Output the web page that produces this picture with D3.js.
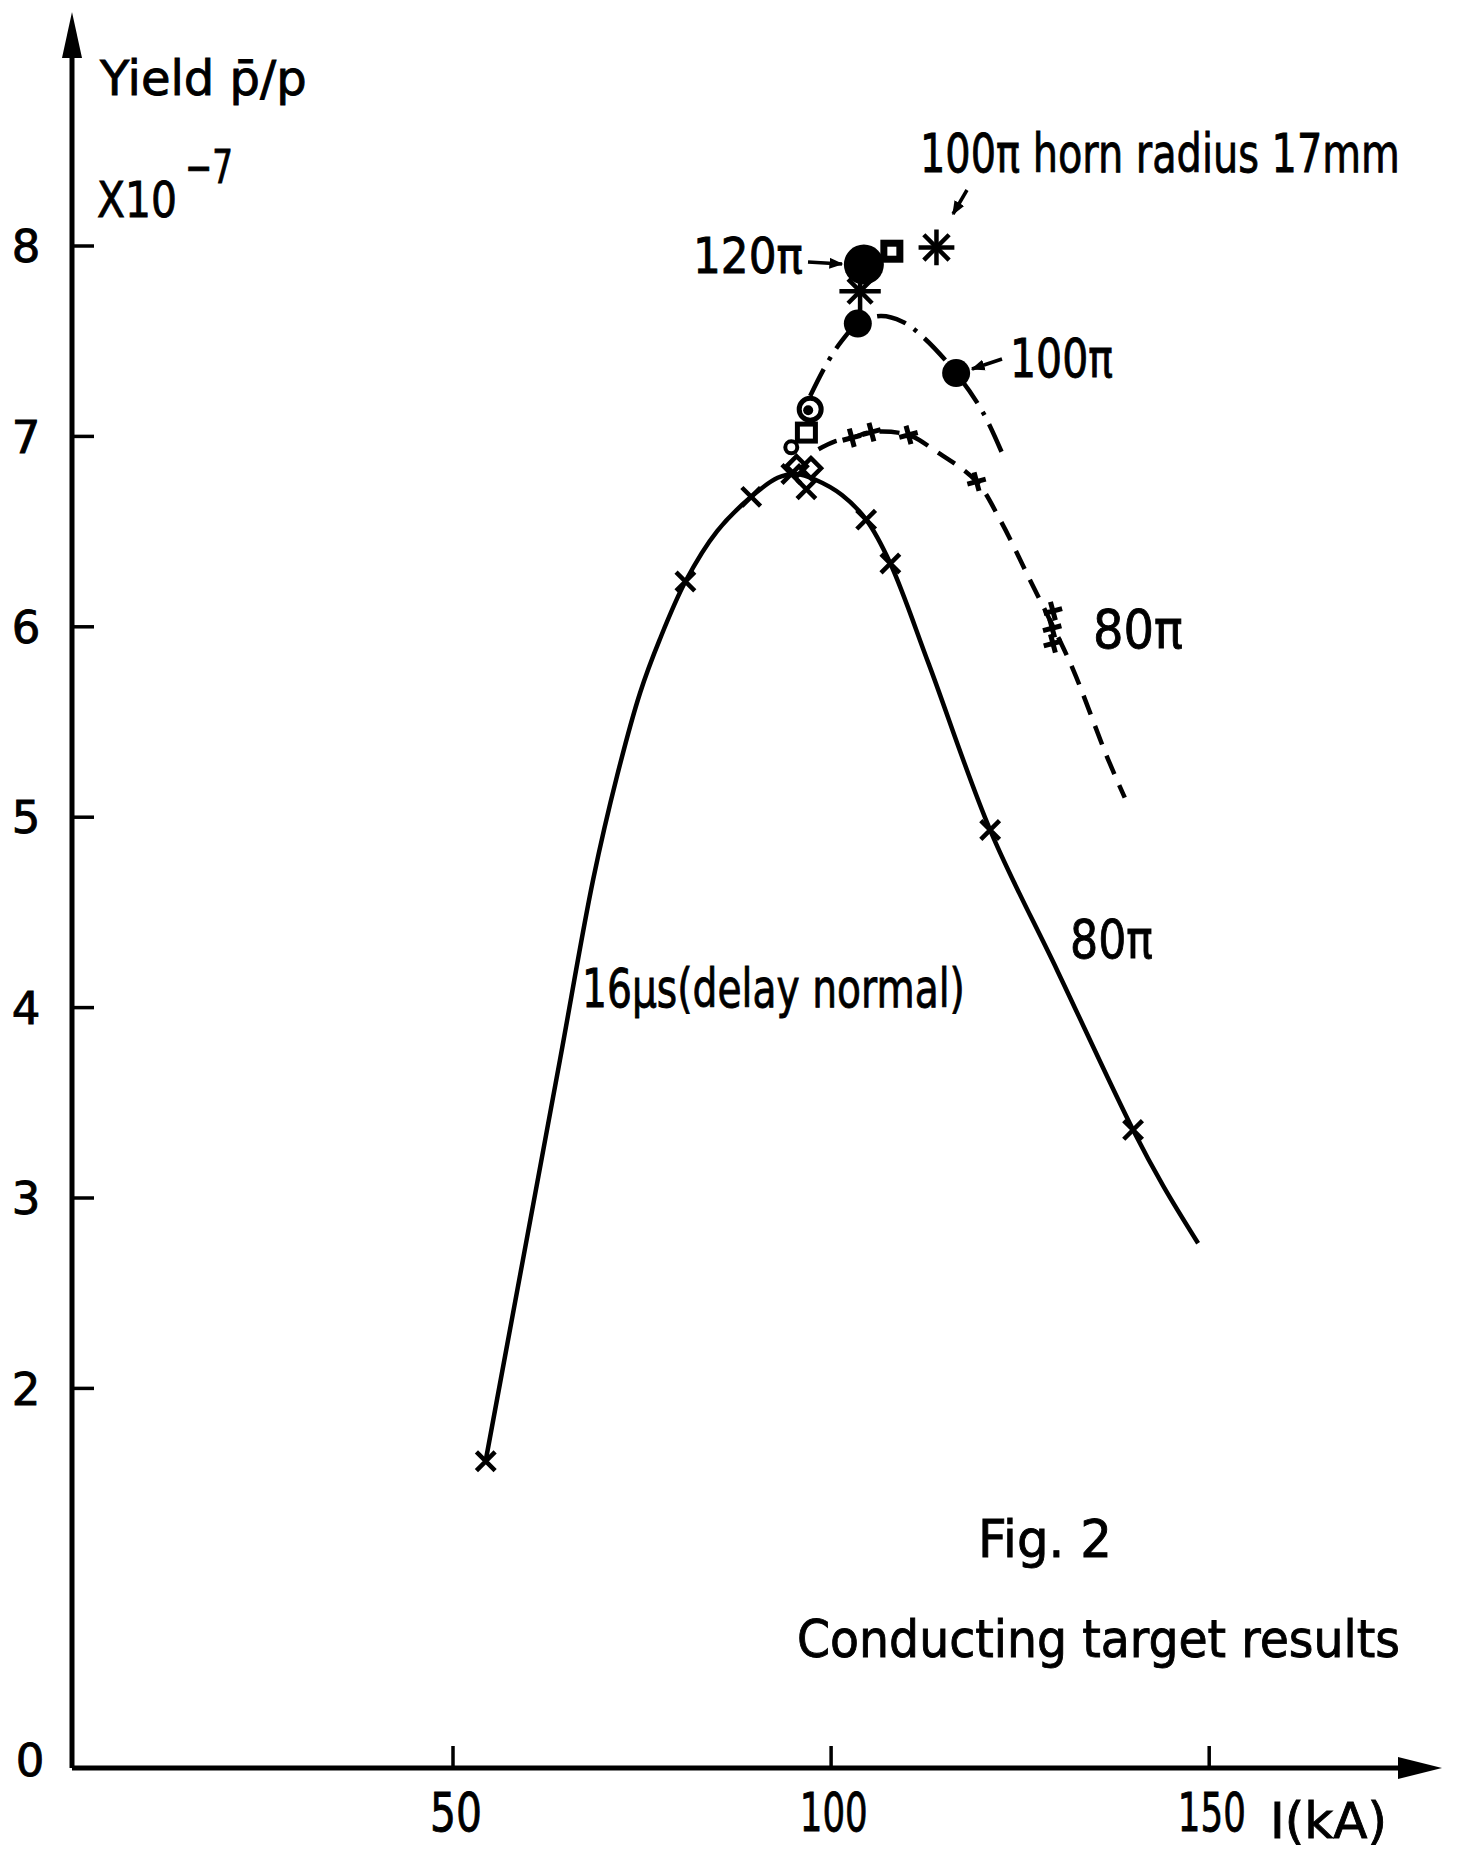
<!DOCTYPE html>
<html>
<head>
<meta charset="utf-8">
<script src="https://cdn.jsdelivr.net/npm/d3@7"></script>
<style>
  body { margin: 0; background: #fff; }
  text { font-family: "DejaVu Sans", sans-serif; fill: #000; stroke: #000; stroke-width: 0.9px; }
</style>
</head>
<body>
<script>
let width = 1458;
let height = 1853;

// axis ticks
let xTicks = [50, 100, 150];
let yTicks = [2, 3, 4, 5, 6, 7, 8];

// 80 pi, 16 us (delay normal) - solid line, x markers
let solidMarks = [[54.4, 1.615], [80.8, 6.235], [89.5, 6.68], [94.8, 6.80], [96.8, 6.72],
                  [104.7, 6.56], [107.9, 6.33], [121.1, 4.93], [140.0, 3.355]];
let solidCurve = [[54.4, 1.62], [59.3, 2.67], [64.2, 3.72], [68.6, 4.67], [71.8, 5.22], [74.8, 5.65],
                  [77.4, 5.93], [80.8, 6.235], [85.0, 6.5], [89.5, 6.68], [93.0, 6.78], [95.5, 6.80],
                  [98.0, 6.77], [101.5, 6.69], [104.7, 6.56], [107.9, 6.33], [113.0, 5.8],
                  [121.1, 4.93], [130.0, 4.19], [140.0, 3.355], [144.0, 3.06], [148.6, 2.76]];

// 80 pi - dashed line, + markers
let dashedMarks = [[102.8, 6.99], [105.4, 7.02], [110.3, 7.005], [119.3, 6.76],
                   [129.4, 6.08], [129.3, 5.99], [129.4, 5.91]];
let dashedCurve = [[98.4, 6.93], [100.5, 6.97], [102.8, 6.99], [105.4, 7.02], [110.3, 7.005],
                   [113.9, 6.92], [119.3, 6.76], [122.4, 6.56], [126.4, 6.24], [129.4, 6.0],
                   [132.1, 5.77], [136.5, 5.32], [138.9, 5.10]];

// 100 pi - dash-dot line, filled circles
let dotDashMarks = [[103.6, 7.59], [116.6, 7.33]];
let dotDashCurve = [[97.3, 7.21], [99.5, 7.38], [101.5, 7.5], [103.6, 7.59], [106.6, 7.63],
                    [109.5, 7.6], [112.2, 7.52], [116.6, 7.33], [120.2, 7.12], [123.1, 6.87]];

// odd points around the peak
let openDotCircle = [[97.3, 7.14]];
let openSquare = [[96.8, 7.02]];
let smallCircle = [[94.8, 6.94]];
let diamonds = [[95.5, 6.84], [97.4, 6.83]];
let bigCircle120 = [[104.4, 7.90]];
let filledSquare = [[108.1, 7.97]];
let stars = [[103.9, 7.76], [114.0, 7.99]];

let xScale = d3.scaleLinear().domain([0, 180]).range([74.4, 74.4 + 180 * 7.562]);
let yScale = d3.scaleLinear().domain([0, 8]).range([1768.7, 1768.7 - 8 * 190.4]);

let svg = d3.select('body').append('svg')
            .attr('width', width)
            .attr('height', height);

svg.append('defs').append('marker')
    .attr('id', 'head')
    .attr('viewBox', '0 0 10 10')
    .attr('refX', 9).attr('refY', 5)
    .attr('markerWidth', 4).attr('markerHeight', 4)
    .attr('orient', 'auto')
    .append('path').attr('d', 'M0,1L10,5L0,9Z').attr('fill', '#000');

// squeeze a text to a given width (the original lettering is narrow)
function squeeze(sel, w, anchorMid) {
    sel.each(function(d, i) {
        let t = d3.select(this);
        let n = this.getComputedTextLength();
        let target = typeof w === 'function' ? w(d, i) : w;
        let x = +t.attr('x') || 0, y = +t.attr('y') || 0;
        let k = Math.min(1, target / n);
        t.attr('x', 0).attr('y', 0)
         .attr('transform', 'translate(' + x + ',' + y + ') scale(' + k + ',1)');
    });
}

// axes
let ax = svg.append('g').attr('transform', 'translate(72,0)')
    .call(d3.axisLeft(yScale).tickValues(yTicks).tickSize(-22).tickSizeOuter(0));
ax.select('.domain').remove();
ax.selectAll('line').attr('stroke', '#000').attr('stroke-width', 3.5);
ax.selectAll('text').attr('x', -46).attr('text-anchor', 'middle')
    .attr('font-size', 45).attr('font-family', '"DejaVu Sans", sans-serif').attr('dy', '0.36em');

let bx = svg.append('g').attr('transform', 'translate(0,1768)')
    .call(d3.axisBottom(xScale).tickValues(xTicks).tickSize(-22).tickSizeOuter(0));
bx.select('.domain').remove();
bx.selectAll('line').attr('stroke', '#000').attr('stroke-width', 3.5);
bx.selectAll('text').attr('y', 25).attr('dx', 4)
    .attr('font-size', 54).attr('font-family', '"DejaVu Sans", sans-serif');
squeeze(bx.selectAll('text'), function(d) { return d < 100 ? 52 : 68; });

svg.append('line').attr('x1', 72).attr('y1', 1768).attr('x2', 72).attr('y2', 40)
    .attr('stroke', '#000').attr('stroke-width', 5);
svg.append('path').attr('d', 'M72,12L62,58L82,58Z').attr('fill', '#000');
svg.append('line').attr('x1', 72).attr('y1', 1768).attr('x2', 1410).attr('y2', 1768)
    .attr('stroke', '#000').attr('stroke-width', 5);
svg.append('path').attr('d', 'M1442,1768L1398,1757L1398,1779Z').attr('fill', '#000');

svg.append('text').attr('x', 30).attr('y', 1760).attr('dy', '0.36em')
    .attr('text-anchor', 'middle').attr('font-size', 45).text('0');

// curves
let line = d3.line()
    .x(function(d) { return xScale(d[0]); })
    .y(function(d) { return yScale(d[1]); })
    .curve(d3.curveCatmullRom.alpha(0.5));

svg.append('path').datum(solidCurve).attr('d', line)
    .attr('fill', 'none').attr('stroke', '#000').attr('stroke-width', 4.5);
svg.append('path').datum(dashedCurve).attr('d', line)
    .attr('fill', 'none').attr('stroke', '#000').attr('stroke-width', 4.5)
    .attr('stroke-dasharray', '20,12');
svg.append('path').datum(dotDashCurve).attr('d', line)
    .attr('fill', 'none').attr('stroke', '#000').attr('stroke-width', 4.5)
    .attr('stroke-dasharray', '30,10,4,10');

function tr(d) { return 'translate(' + xScale(d[0]) + ',' + yScale(d[1]) + ')'; }

// markers
svg.selectAll('.xmark').data(solidMarks).enter().append('path')
    .attr('transform', tr)
    .attr('d', d3.symbol(d3.symbolTimes, 230))
    .attr('fill', 'none').attr('stroke', '#000').attr('stroke-width', 4.5);

svg.selectAll('.pmark').data(dashedMarks).enter().append('path')
    .attr('transform', function(d) { return tr(d) + ' rotate(-15)'; })
    .attr('d', d3.symbol(d3.symbolPlus, 120))
    .attr('fill', 'none').attr('stroke', '#000').attr('stroke-width', 5);

svg.selectAll('.dmark').data(diamonds).enter().append('path')
    .attr('transform', tr)
    .attr('d', d3.symbol(d3.symbolDiamond2, 260))
    .attr('fill', 'none').attr('stroke', '#000').attr('stroke-width', 4.5);

svg.selectAll('.fcirc').data(dotDashMarks).enter().append('circle')
    .attr('transform', tr).attr('r', 14).attr('fill', '#000');

svg.selectAll('.ocirc').data(openDotCircle).enter().append('g')
    .attr('transform', tr)
    .each(function() {
        d3.select(this).append('circle').attr('r', 11).attr('fill', '#fff')
            .attr('stroke', '#000').attr('stroke-width', 5);
        d3.select(this).append('circle').attr('r', 5).attr('cx', -2).attr('cy', 1).attr('fill', '#000');
    });

svg.selectAll('.osq').data(openSquare).enter().append('rect')
    .attr('transform', tr).attr('x', -9).attr('y', -8).attr('width', 18).attr('height', 17)
    .attr('fill', '#fff').attr('stroke', '#000').attr('stroke-width', 5);

svg.selectAll('.scirc').data(smallCircle).enter().append('circle')
    .attr('transform', tr).attr('r', 6).attr('fill', '#fff')
    .attr('stroke', '#000').attr('stroke-width', 4);

svg.selectAll('.star').data(stars).enter().append('g')
    .attr('transform', tr)
    .each(function(d, i) {
        let s = d3.select(this);
        s.append('path').attr('d', d3.symbol(d3.symbolTimes, i ? 420 : 380))
            .attr('fill', 'none').attr('stroke', '#000').attr('stroke-width', 4.5);
        s.append('path').attr('d', d3.symbol(d3.symbolPlus, i ? 420 : 560))
            .attr('fill', 'none').attr('stroke', '#000').attr('stroke-width', 4.5);
    });

svg.selectAll('.bcirc').data(bigCircle120).enter().append('circle')
    .attr('transform', tr).attr('r', 20).attr('fill', '#000');

svg.selectAll('.fsq').data(filledSquare).enter().append('rect')
    .attr('transform', tr).attr('x', -8).attr('y', -8).attr('width', 16).attr('height', 16)
    .attr('fill', '#fff').attr('stroke', '#000').attr('stroke-width', 7);

// labels
let labels = [
    { t: 'Yield p\u0304/p', x: 100, y: 95, size: 48, w: 213 },
    { t: 'X10', x: 97, y: 217, size: 50, w: 80 },
    { t: '\u22127', x: 185, y: 183, size: 46, w: 48 },
    { t: '100π horn radius 17mm', x: 920, y: 172, size: 54, w: 480 },
    { t: '120π', x: 693, y: 273, size: 49, w: 110 },
    { t: '100π', x: 1010, y: 377, size: 53, w: 103 },
    { t: '80π', x: 1093, y: 648, size: 53, w: 90 },
    { t: '80π', x: 1070, y: 958, size: 54, w: 83 },
    { t: '16μs(delay normal)', x: 582, y: 1007, size: 53, w: 383 },
    { t: 'Fig. 2', x: 978, y: 1557, size: 51, w: 134 },
    { t: 'Conducting target results', x: 797, y: 1657, size: 51, w: 603 },
    { t: 'I(kA)', x: 1270, y: 1838, size: 50, w: 125 }
];

let lab = svg.selectAll('.lab').data(labels).enter().append('text')
    .attr('class', 'lab')
    .attr('x', function(d) { return d.x; })
    .attr('y', function(d) { return d.y; })
    .attr('font-size', function(d) { return d.size; })
    .text(function(d) { return d.t; });
squeeze(lab, function(d) { return d.w; });

// little pointer arrows
let pointers = [[808, 262, 842, 264], [1002, 359, 972, 369], [967, 190, 953, 214]];
svg.selectAll('.ptr').data(pointers).enter().append('line')
    .attr('x1', function(d) { return d[0]; }).attr('y1', function(d) { return d[1]; })
    .attr('x2', function(d) { return d[2]; }).attr('y2', function(d) { return d[3]; })
    .attr('stroke', '#000').attr('stroke-width', 3.5)
    .attr('marker-end', 'url(#head)');
</script>
</body>
</html>
